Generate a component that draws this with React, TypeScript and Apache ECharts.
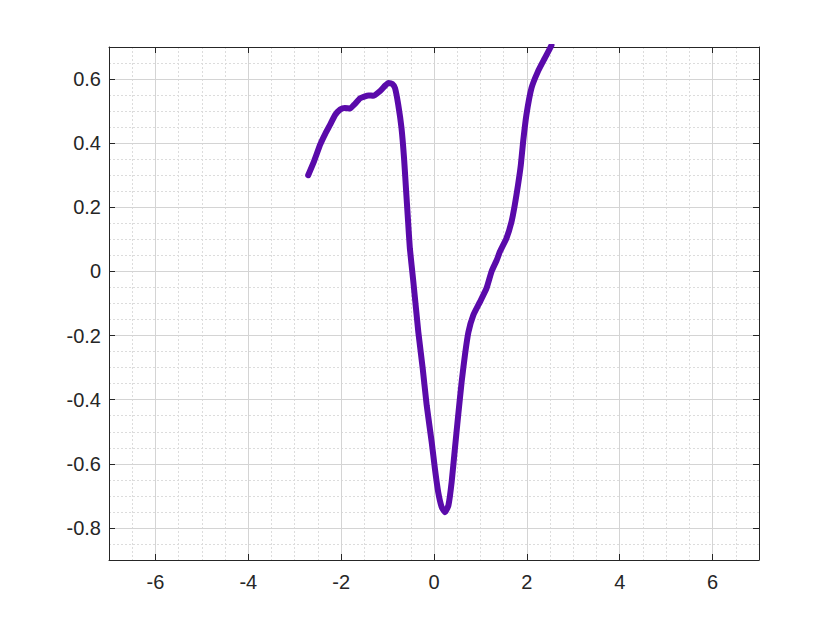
import React, { useEffect, useRef } from "react";
import * as echarts from "echarts";

const xValues = [
  -2.71, -2.58, -2.45, -2.34, -2.24, -2.13, -2.02, -1.92, -1.81, -1.72, -1.59, -1.41, -1.31, -1.16, -1.05,
  -0.98, -0.9, -0.84, -0.77, -0.7, -0.645, -0.6, -0.56, -0.52, -0.445, -0.337, -0.243, -0.157, -0.05, 0.02,
  0.09, 0.165, 0.237, 0.31, 0.38, 0.45, 0.52, 0.595, 0.667, 0.74, 0.845, 0.99, 1.13, 1.24, 1.35, 1.42, 1.56,
  1.67, 1.74, 1.81, 1.87, 1.92, 1.99, 2.1, 2.24, 2.39, 2.53,
];
const yValues = [
  0.3, 0.345, 0.396, 0.43, 0.457, 0.488, 0.505, 0.51, 0.508, 0.52, 0.54, 0.549, 0.548, 0.563, 0.58,
  0.588, 0.585, 0.572, 0.52, 0.447, 0.353, 0.25, 0.16, 0.072, -0.032, -0.19, -0.303, -0.418, -0.532, -0.616,
  -0.688, -0.735, -0.751, -0.73, -0.657, -0.553, -0.45, -0.345, -0.26, -0.19, -0.137, -0.095, -0.053, 0.0, 0.035, 0.062, 0.103,
  0.155, 0.207, 0.27, 0.332, 0.405, 0.488, 0.572, 0.624, 0.666, 0.705,
];

const X_MIN = -7;
const X_MAX = 7;
const Y_MIN = -0.9;
const Y_MAX = 0.7;

const AXIS_COLOR = "#262626";
const FONT = "'Liberation Sans', Arial, Helvetica, sans-serif";

export default function App() {
  const ref = useRef<HTMLDivElement>(null);

  useEffect(() => {
    if (!ref.current) return;
    const chart = echarts.init(ref.current, undefined, { renderer: "svg" });
    const data = xValues.map((x, i) => [x, yValues[i]]);

    const majorCommon = {
      type: "value" as const,
      axisLine: { show: true, onZero: false, lineStyle: { color: AXIS_COLOR, width: 1 } },
      axisTick: { show: true, inside: true, length: 6, lineStyle: { color: AXIS_COLOR, width: 1 } },
      minorTick: { show: false },
    };

    chart.setOption({
      animation: false,
      backgroundColor: "#ffffff",
      grid: { left: 109, right: 81, top: 47, bottom: 70, containLabel: false },
      xAxis: [
        {
          type: "value",
          min: X_MIN,
          max: X_MAX,
          interval: 0.5,
          position: "bottom",
          axisLine: { show: false },
          axisTick: { show: false },
          axisLabel: { show: false },
          splitLine: { show: true, lineStyle: { color: "#dcdcdc", width: 1, type: [2, 2] } },
          z: 0,
        },
        {
          ...majorCommon,
          min: X_MIN,
          max: X_MAX,
          splitNumber: 7,
          position: "bottom",
          axisLabel: {
            show: true,
            color: AXIS_COLOR,
            fontSize: 20,
            fontFamily: FONT,
            margin: 12,
            showMinLabel: false,
            showMaxLabel: false,
          },
          splitLine: { show: true, lineStyle: { color: "#d4d4d4", width: 1, type: "solid" } },
          z: 1,
        },
        {
          ...majorCommon,
          min: X_MIN,
          max: X_MAX,
          splitNumber: 7,
          position: "top",
          axisLabel: { show: false },
          splitLine: { show: false },
          z: 2,
        },
      ],
      yAxis: [
        {
          type: "value",
          min: Y_MIN,
          max: Y_MAX,
          interval: 0.05,
          position: "left",
          axisLine: { show: false },
          axisTick: { show: false },
          axisLabel: { show: false },
          splitLine: { show: true, lineStyle: { color: "#dcdcdc", width: 1, type: [2, 2] } },
          z: 0,
        },
        {
          ...majorCommon,
          min: Y_MIN,
          max: Y_MAX,
          splitNumber: 8,
          position: "left",
          axisLabel: {
            show: true,
            color: AXIS_COLOR,
            fontSize: 20,
            fontFamily: FONT,
            margin: 8,
            showMinLabel: false,
            showMaxLabel: false,
          },
          splitLine: { show: true, lineStyle: { color: "#d4d4d4", width: 1, type: "solid" } },
          z: 1,
        },
        {
          ...majorCommon,
          min: Y_MIN,
          max: Y_MAX,
          splitNumber: 8,
          position: "right",
          axisLabel: { show: false },
          splitLine: { show: false },
          z: 2,
        },
      ],
      series: [
        {
          type: "line",
          xAxisIndex: 1,
          yAxisIndex: 1,
          data,
          showSymbol: false,
          symbol: "none",
          smooth: 0.15,
          clip: true,
          lineStyle: { color: "#5a0aaa", width: 6, cap: "round", join: "round" },
          z: 5,
        },
      ],
    });

    return () => chart.dispose();
  }, []);

  return (
    <div
      ref={ref}
      style={{ position: "absolute", left: 0, top: 0, width: 840, height: 630, background: "#fff" }}
    />
  );
}
